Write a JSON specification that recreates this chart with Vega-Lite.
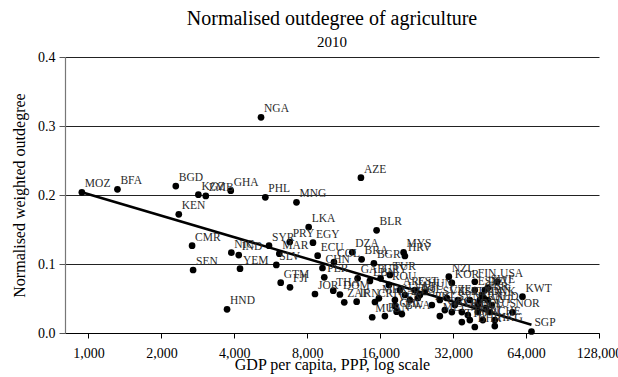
{
  "$schema": "https://vega.github.io/schema/vega-lite/v6.json",
  "width": 534,
  "height": 276,
  "autosize": {"type": "none"},
  "padding": {"left": 65, "top": 57, "right": 19, "bottom": 44},
  "background": "white",
  "title": {
    "text": "Normalised outdegree of agriculture",
    "subtitle": "2010",
    "anchor": "middle",
    "font": "Liberation Serif",
    "fontSize": 20,
    "fontWeight": "normal",
    "color": "#000000",
    "subtitleFont": "Liberation Serif",
    "subtitleFontSize": 15,
    "subtitleColor": "#000000",
    "subtitlePadding": 6,
    "offset": 0
  },
  "config": {
    "view": {"stroke": null},
    "font": "Liberation Serif"
  },
  "datasets": {
    "pts": [
      {"iso": "MOZ", "gdp": 939, "od": 0.2039},
      {"iso": "BFA", "gdp": 1317, "od": 0.2083},
      {"iso": "BGD", "gdp": 2293, "od": 0.2130},
      {"iso": "KEN", "gdp": 2359, "od": 0.1720},
      {"iso": "KGZ", "gdp": 2842, "od": 0.2004},
      {"iso": "ZMB", "gdp": 3049, "od": 0.1986},
      {"iso": "GHA", "gdp": 3866, "od": 0.2062},
      {"iso": "NGA", "gdp": 5155, "od": 0.3126},
      {"iso": "PHL", "gdp": 5370, "od": 0.1967},
      {"iso": "MNG", "gdp": 7220, "od": 0.1894},
      {"iso": "AZE", "gdp": 13320, "od": 0.2251},
      {"iso": "LKA", "gdp": 8107, "od": 0.1536},
      {"iso": "BLR", "gdp": 15460, "od": 0.1488},
      {"iso": "CMR", "gdp": 2677, "od": 0.1265},
      {"iso": "SEN", "gdp": 2703, "od": 0.0913},
      {"iso": "NIC", "gdp": 3888, "od": 0.1164},
      {"iso": "IND", "gdp": 4171, "od": 0.1130},
      {"iso": "YEM", "gdp": 4222, "od": 0.0932},
      {"iso": "SYR", "gdp": 5561, "od": 0.1265},
      {"iso": "PRY", "gdp": 6769, "od": 0.1319},
      {"iso": "MAR", "gdp": 6133, "od": 0.1149},
      {"iso": "SLV", "gdp": 5961, "od": 0.0986},
      {"iso": "EGY", "gdp": 8445, "od": 0.1309},
      {"iso": "GTM", "gdp": 6215, "od": 0.0729},
      {"iso": "FJI", "gdp": 6788, "od": 0.0662},
      {"iso": "HND", "gdp": 3732, "od": 0.0343},
      {"iso": "ECU", "gdp": 8830, "od": 0.1120},
      {"iso": "DZA", "gdp": 12265, "od": 0.1170},
      {"iso": "BRA", "gdp": 13410, "od": 0.1068},
      {"iso": "BGR", "gdp": 15070, "od": 0.1010},
      {"iso": "MYS", "gdp": 19980, "od": 0.1167},
      {"iso": "HRV", "gdp": 20230, "od": 0.1116},
      {"iso": "COL", "gdp": 10310, "od": 0.1029},
      {"iso": "CHN", "gdp": 9243, "od": 0.0942},
      {"iso": "PER", "gdp": 9402, "od": 0.0807},
      {"iso": "JOR", "gdp": 8607, "od": 0.0565},
      {"iso": "THA", "gdp": 10240, "od": 0.0613},
      {"iso": "DOM", "gdp": 10910, "od": 0.0558},
      {"iso": "ZAF", "gdp": 11370, "od": 0.0445},
      {"iso": "IRN", "gdp": 12790, "od": 0.0454},
      {"iso": "GAB", "gdp": 12910, "od": 0.0793},
      {"iso": "LBN", "gdp": 14510, "od": 0.0754},
      {"iso": "TUR", "gdp": 17540, "od": 0.0841},
      {"iso": "URY", "gdp": 16060, "od": 0.0793},
      {"iso": "ROU", "gdp": 17380, "od": 0.0696},
      {"iso": "MUS", "gdp": 14830, "od": 0.0228},
      {"iso": "CHL", "gdp": 18700, "od": 0.0309},
      {"iso": "ARG", "gdp": 19290, "od": 0.0623},
      {"iso": "MEX", "gdp": 15800, "od": 0.0503},
      {"iso": "KAZ", "gdp": 18400, "od": 0.0478},
      {"iso": "RUS", "gdp": 21210, "od": 0.0478},
      {"iso": "EST", "gdp": 22240, "od": 0.0623},
      {"iso": "LVA", "gdp": 20230, "od": 0.0551},
      {"iso": "LTU", "gdp": 23320, "od": 0.0551},
      {"iso": "HUN", "gdp": 24460, "od": 0.0594},
      {"iso": "POL", "gdp": 22890, "od": 0.0507},
      {"iso": "VEN", "gdp": 18400, "od": 0.0391},
      {"iso": "BWA", "gdp": 19660, "od": 0.0275},
      {"iso": "PAN", "gdp": 16730, "od": 0.0246},
      {"iso": "CRI", "gdp": 15220, "od": 0.0449},
      {"iso": "NZL", "gdp": 30720, "od": 0.0816},
      {"iso": "KOR", "gdp": 31610, "od": 0.0725},
      {"iso": "SVK", "gdp": 28200, "od": 0.0478},
      {"iso": "CZE", "gdp": 30140, "od": 0.0507},
      {"iso": "SVN", "gdp": 32520, "od": 0.0406},
      {"iso": "PRT", "gdp": 26140, "od": 0.0406},
      {"iso": "GRC", "gdp": 29570, "od": 0.0333},
      {"iso": "ISR", "gdp": 33460, "od": 0.0478},
      {"iso": "ESP", "gdp": 39320, "od": 0.0623},
      {"iso": "ITA", "gdp": 37500, "od": 0.0478},
      {"iso": "FIN", "gdp": 39320, "od": 0.0743},
      {"iso": "USA", "gdp": 48590, "od": 0.0743},
      {"iso": "JPN", "gdp": 41240, "od": 0.0478},
      {"iso": "FRA", "gdp": 40460, "od": 0.0406},
      {"iso": "GBR", "gdp": 42030, "od": 0.0551},
      {"iso": "DEU", "gdp": 43240, "od": 0.0623},
      {"iso": "SWE", "gdp": 44490, "od": 0.0652},
      {"iso": "DNK", "gdp": 44490, "od": 0.0478},
      {"iso": "BEL", "gdp": 40460, "od": 0.0304},
      {"iso": "AUT", "gdp": 43640, "od": 0.0362},
      {"iso": "NLD", "gdp": 46210, "od": 0.0406},
      {"iso": "CAN", "gdp": 42830, "od": 0.0507},
      {"iso": "AUS", "gdp": 45340, "od": 0.0304},
      {"iso": "IRL", "gdp": 42430, "od": 0.0188},
      {"iso": "CHE", "gdp": 47540, "od": 0.0188},
      {"iso": "NOR", "gdp": 56250, "od": 0.0300},
      {"iso": "KWT", "gdp": 61850, "od": 0.0526},
      {"iso": "SGP", "gdp": 67370, "od": 0.0022},
      {"iso": "HKG", "gdp": 47540, "od": 0.0101},
      {"iso": "SAU", "gdp": 36800, "od": 0.0261},
      {"iso": "OMN", "gdp": 34760, "od": 0.0304},
      {"iso": "TWN", "gdp": 37500, "od": 0.0188},
      {"iso": "CYP", "gdp": 31610, "od": 0.0304},
      {"iso": "MLT", "gdp": 28200, "od": 0.0246},
      {"iso": "TTO", "gdp": 34760, "od": 0.0159},
      {"iso": "BHR", "gdp": 39320, "od": 0.0087}
    ],
    "fit": [
      {"gdp": 939, "od": 0.2039},
      {"gdp": 67370, "od": 0.0120}
    ]
  },
  "layer": [
    {
      "data": {"name": "pts"},
      "mark": {"type": "point", "filled": true, "color": "#000000", "opacity": 1, "size": 45},
      "encoding": {
        "x": {
          "field": "gdp", "type": "quantitative",
          "scale": {"type": "log", "base": 2, "domain": [800, 128000], "nice": false},
          "axis": {
            "values": [1000, 2000, 4000, 8000, 16000, 32000, 64000, 128000],
            "format": ",d",
            "title": "GDP per capita, PPP, log scale",
            "titleFont": "Liberation Serif", "titleFontSize": 16, "titleFontWeight": "normal", "titleColor": "#000000",
            "titlePadding": -4,
            "labelFont": "Liberation Serif", "labelFontSize": 14, "labelColor": "#000000",
            "labelPadding": 8, "labelOverlap": false, "labelFlush": false,
            "tickSize": 5, "tickColor": "#000000",
            "domainColor": "#000000", "domainWidth": 1.2,
            "grid": false
          }
        },
        "y": {
          "field": "od", "type": "quantitative",
          "scale": {"domain": [0, 0.4], "nice": false},
          "axis": {
            "values": [0, 0.1, 0.2, 0.3, 0.4],
            "format": ".1f",
            "title": "Normalised weighted outdegree",
            "titleFont": "Liberation Serif", "titleFontSize": 16, "titleFontWeight": "normal", "titleColor": "#000000",
            "titlePadding": 10,
            "labelFont": "Liberation Serif", "labelFontSize": 14, "labelColor": "#000000",
            "labelPadding": 4,
            "tickSize": 6, "tickColor": "#555555",
            "domainColor": "#777777", "domainWidth": 1.2,
            "grid": true, "gridColor": "#222222", "gridWidth": 1, "gridOpacity": 1
          }
        }
      }
    },
    {
      "data": {"name": "fit"},
      "mark": {"type": "line", "color": "#000000", "strokeWidth": 2.5},
      "encoding": {
        "x": {"field": "gdp", "type": "quantitative"},
        "y": {"field": "od", "type": "quantitative"}
      }
    },
    {
      "data": {"name": "pts"},
      "mark": {"type": "text", "align": "left", "baseline": "alphabetic", "dx": 3, "dy": -5, "font": "Liberation Serif", "fontSize": 11.5, "color": "#2a2a2a"},
      "encoding": {
        "x": {"field": "gdp", "type": "quantitative"},
        "y": {"field": "od", "type": "quantitative"},
        "text": {"field": "iso"}
      }
    }
  ]
}
